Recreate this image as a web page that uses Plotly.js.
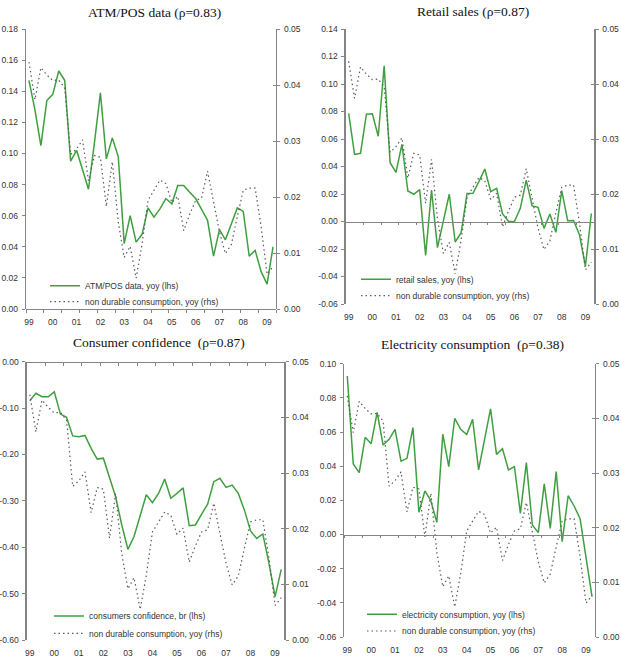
<!DOCTYPE html>
<html>
<head>
<meta charset="utf-8">
<script src="https://cdn.plot.ly/plotly-3.0.1.min.js"></script>
<style>
  html, body { margin: 0; padding: 0; background: #fff; }
  #chart { width: 621px; height: 667px; }
</style>
</head>
<body>
<div id="chart"></div>
<script>
// Quarterly observations, 1999 Q1 - 2009 Q2
const quarters = [
  '99Q1','99Q2','99Q3','99Q4','00Q1','00Q2','00Q3','00Q4',
  '01Q1','01Q2','01Q3','01Q4','02Q1','02Q2','02Q3','02Q4',
  '03Q1','03Q2','03Q3','03Q4','04Q1','04Q2','04Q3','04Q4',
  '05Q1','05Q2','05Q3','05Q4','06Q1','06Q2','06Q3','06Q4',
  '07Q1','07Q2','07Q3','07Q4','08Q1','08Q2','08Q3','08Q4',
  '09Q1','09Q2'
];
const yearTickQuarters = ['99Q1','00Q1','01Q1','02Q1','03Q1','04Q1','05Q1','06Q1','07Q1','08Q1','09Q1'];
const yearTickLabels = ['99','00','01','02','03','04','05','06','07','08','09'];

// Non durable consumption, yoy (right-hand scale in every panel)
const nonDurable = [
  0.0441,0.0374,0.0431,0.0418,0.0408,0.0409,0.0395,0.0276,
  0.0286,0.0302,0.0229,0.0274,0.0271,0.0183,0.0263,0.0155,
  0.0092,0.0112,0.0055,0.0116,0.0194,0.0212,0.0230,0.0224,
  0.0190,0.0201,0.0140,0.0169,0.0194,0.0198,0.0246,0.0192,
  0.0138,0.0099,0.0115,0.0165,0.0212,0.0216,0.0216,0.0147,
  0.0062,0.0076
];

// ATM/POS data, yoy
const atmPos = [
  0.147,0.128,0.105,0.134,0.138,0.153,0.147,0.095,
  0.102,0.090,0.077,0.107,0.139,0.0965,0.110,0.098,
  0.042,0.060,0.043,0.048,0.065,0.059,0.0644,0.071,
  0.0676,0.0794,0.0794,0.075,0.071,0.064,0.057,0.034,
  0.051,0.0445,0.055,0.065,0.0627,0.034,0.0377,0.024,
  0.016,0.040
];

// Retail sales, yoy
const retailSales = [
  0.0787,0.0488,0.0496,0.0780,0.0784,0.0620,0.1133,0.0428,
  0.0358,0.0561,0.0222,0.0198,0.0232,-0.0246,0.0229,-0.0190,
  0.0005,0.0198,-0.0149,-0.0082,0.0203,0.0205,0.0290,0.0382,
  0.0217,0.0241,0.0055,0.0002,-0.0002,0.0096,0.0300,0.0113,
  0.0103,-0.0050,0.0055,-0.0079,0.0224,0.0006,0.0008,-0.0098,
  -0.0325,0.0058
];

// Consumers confidence, balance
const consumerConfidence = [
  -0.084,-0.068,-0.0755,-0.0755,-0.065,-0.113,-0.120,-0.160,
  -0.1617,-0.159,-0.187,-0.210,-0.208,-0.248,-0.291,-0.352,
  -0.4045,-0.377,-0.334,-0.287,-0.304,-0.284,-0.253,-0.2946,
  -0.284,-0.272,-0.3535,-0.352,-0.329,-0.307,-0.2587,-0.2515,
  -0.271,-0.266,-0.284,-0.320,-0.365,-0.381,-0.3715,-0.435,
  -0.5066,-0.4477
];

// Electricity consumption, yoy
const electricity = [
  0.0928,0.0413,0.0362,0.0569,0.0532,0.0715,0.0524,0.0557,
  0.0616,0.0430,0.0446,0.0626,0.0130,0.0255,0.0198,0.0071,
  0.0587,0.0397,0.0680,0.0616,0.0585,0.0674,0.0378,0.0553,
  0.0735,0.0469,0.0502,0.0378,0.0397,0.0124,0.0421,0.0056,
  0.0011,0.0296,0.0036,0.0368,-0.0042,0.0227,0.0167,0.0093,
  -0.0140,-0.0364
];

// Axis ticks
const rhsTicks = [0, 0.01, 0.02, 0.03, 0.04, 0.05];
const rhsTickLabels = ['0.00','0.01','0.02','0.03','0.04','0.05'];
const atmTicks = [0,0.02,0.04,0.06,0.08,0.10,0.12,0.14,0.16,0.18];
const atmTickLabels = ['0.00','0.02','0.04','0.06','0.08','0.10','0.12','0.14','0.16','0.18'];
const retailTicks = [-0.06,-0.04,-0.02,0,0.02,0.04,0.06,0.08,0.10,0.12,0.14];
const retailTickLabels = ['-0.06','-0.04','-0.02','0.00','0.02','0.04','0.06','0.08','0.10','0.12','0.14'];
const confTicks = [-0.6,-0.5,-0.4,-0.3,-0.2,-0.1,0];
const confTickLabels = ['-0.60','-0.50','-0.40','-0.30','-0.20','-0.10','0.00'];
const elecTicks = [-0.06,-0.04,-0.02,0,0.02,0.04,0.06,0.08,0.10];
const elecTickLabels = ['-0.06','-0.04','-0.02','0.00','0.02','0.04','0.06','0.08','0.10'];

const ndLabel = 'non durable consumption, yoy (rhs)';

const panels = [
  { title: 'ATM/POS data (\u03c1=0.83)', series: atmPos, name: 'ATM/POS data, yoy (lhs)',
    range: [0, 0.18], ticks: atmTicks, labels: atmTickLabels,
    box: { l: 26, r: 276, t: 29, b: 309 }, titleY: 12,
    legendX: 45, legendY: [285.7, 301.7] },
  { title: 'Retail sales (\u03c1=0.87)', series: retailSales, name: 'retail sales, yoy (lhs)',
    range: [-0.06, 0.14], ticks: retailTicks, labels: retailTickLabels,
    box: { l: 345.7, r: 594.3, t: 29, b: 304 }, titleY: 11,
    legendX: 356, legendY: [279.3, 295.7] },
  { title: 'Consumer confidence\u00a0 (\u03c1=0.87)', series: consumerConfidence, name: 'consumers confidence, br (lhs)',
    range: [-0.6, 0], ticks: confTicks, labels: confTickLabels,
    box: { l: 26.7, r: 284.3, t: 361.7, b: 640 }, titleY: 343,
    legendX: 49, legendY: [616, 633.3] },
  { title: 'Electricity consumption\u00a0 (\u03c1=0.38)', series: electricity, name: 'electricity consumption, yoy (lhs)',
    range: [-0.06, 0.10], ticks: elecTicks, labels: elecTickLabels,
    box: { l: 344.3, r: 595, t: 363.7, b: 637 }, titleY: 344,
    legendX: 362, legendY: [614.3, 631] }
];

const W = 621, H = 667;
const fx = v => v / W;
const fy = v => 1 - v / H;
const key = (letter, n) => n === 1 ? letter + 'axis' : letter + 'axis' + n;
const ref = (letter, n) => n === 1 ? letter : letter + n;
const legKey = n => n === 1 ? 'legend' : 'legend' + n;

const axisColor = '#858585';
const tickFont = { family: 'Liberation Sans, Arial, sans-serif', size: 8.5, color: '#333333' };
const legendFont = { family: 'Liberation Sans, Arial, sans-serif', size: 8.5, color: '#333333' };
const green = '#3f9f3f';
const xRange = [-0.5, quarters.length - 0.5];
const crossTicks = [];
for (let v = -0.5; v <= quarters.length - 0.5; v += 3) crossTicks.push(v);

const data = [];
const layout = {
  width: W, height: H,
  margin: { l: 0, r: 0, t: 0, b: 0 },
  paper_bgcolor: '#ffffff', plot_bgcolor: 'rgba(0,0,0,0)',
  showlegend: true,
  annotations: []
};

panels.forEach((p, k) => {
  const n = k + 1;
  const xLab = n, xLine = n + 4, yL = n, yR = n + 4, yRin = n + 8;
  const xDom = [fx(p.box.l), fx(p.box.r)];
  const yDom = [fy(p.box.b), fy(p.box.t)];

  data.push({
    type: 'scatter', mode: 'lines', name: p.name,
    x: quarters, y: p.series,
    xaxis: ref('x', xLab), yaxis: ref('y', yL),
    line: { color: green, width: 1.5 },
    legend: legKey(2 * n - 1), hoverinfo: 'x+y'
  });
  data.push({
    type: 'scatter', mode: 'lines', name: ndLabel,
    x: quarters, y: nonDurable,
    xaxis: ref('x', xLab), yaxis: ref('y', yR),
    line: { color: '#5a5a5a', width: 1.2, dash: '1.5px,3px' },
    legend: legKey(2 * n), hoverinfo: 'x+y'
  });
  // carriers for the horizontal crossing axis and the inner right-hand ticks
  data.push({
    type: 'scatter', mode: 'lines', x: [], y: [],
    xaxis: ref('x', xLine), yaxis: ref('y', yL),
    showlegend: false, hoverinfo: 'skip'
  });
  data.push({
    type: 'scatter', mode: 'lines', x: [], y: [],
    xaxis: ref('x', xLab), yaxis: ref('y', yRin),
    showlegend: false, hoverinfo: 'skip'
  });

  layout[key('x', xLab)] = {
    domain: xDom, anchor: ref('y', yL), type: 'category', range: xRange,
    tickmode: 'array', tickvals: yearTickQuarters, ticktext: yearTickLabels,
    ticks: '', showline: false, showgrid: false, zeroline: false,
    tickfont: tickFont, ticklabelstandoff: 6, fixedrange: true
  };
  const zeroFrac = (0 - p.range[0]) / (p.range[1] - p.range[0]);
  layout[key('x', xLine)] = {
    overlaying: ref('x', xLab), anchor: 'free',
    position: yDom[0] + zeroFrac * (yDom[1] - yDom[0]),
    type: 'linear', range: xRange,
    tickmode: 'array', tickvals: crossTicks, showticklabels: false,
    ticks: 'outside', ticklen: 2.5, tickwidth: 1, tickcolor: axisColor,
    showline: true, linecolor: axisColor, linewidth: 1.3,
    showgrid: false, zeroline: false, fixedrange: true
  };
  layout[key('y', yL)] = {
    domain: yDom, anchor: ref('x', xLab), range: p.range, side: 'left',
    tickmode: 'array', tickvals: p.ticks, ticktext: p.labels,
    ticks: 'outside', ticklen: 3, tickcolor: axisColor,
    showline: true, linecolor: axisColor, linewidth: 1.3,
    showgrid: false, zeroline: false, tickfont: tickFont,
    ticklabelstandoff: 2, fixedrange: true
  };
  layout[key('y', yR)] = {
    overlaying: ref('y', yL), anchor: ref('x', xLab), side: 'right',
    range: [0, 0.05],
    tickmode: 'array', tickvals: rhsTicks, ticktext: rhsTickLabels,
    ticks: 'outside', ticklen: 3, tickcolor: axisColor,
    showline: true, linecolor: axisColor, linewidth: 1.3,
    showgrid: false, zeroline: false, tickfont: tickFont,
    ticklabelstandoff: 2, fixedrange: true
  };
  layout[key('y', yRin)] = {
    overlaying: ref('y', yL), anchor: ref('x', xLab), side: 'right',
    range: [0, 0.05],
    tickmode: 'array', tickvals: rhsTicks, showticklabels: false,
    ticks: 'inside', ticklen: 3, tickcolor: axisColor,
    showline: false, showgrid: false, zeroline: false, fixedrange: true
  };

  p.legendY.forEach((ly, j) => {
    layout[legKey(2 * n - 1 + j)] = {
      x: fx(p.legendX), y: fy(ly), xanchor: 'left', yanchor: 'middle',
      bgcolor: 'rgba(0,0,0,0)', borderwidth: 0, font: legendFont,
      tracegroupgap: 0
    };
  });

  layout.annotations.push({
    xref: 'paper', yref: 'paper',
    x: fx((p.box.l + p.box.r) / 2 + 3), y: fy(p.titleY),
    xanchor: 'center', yanchor: 'middle', showarrow: false,
    text: p.title,
    font: { family: 'Liberation Serif, DejaVu Serif, serif', size: 13.5, color: '#111111' }
  });
});

Plotly.newPlot('chart', data, layout, { staticPlot: true, displayModeBar: false });
</script>
</body>
</html>
